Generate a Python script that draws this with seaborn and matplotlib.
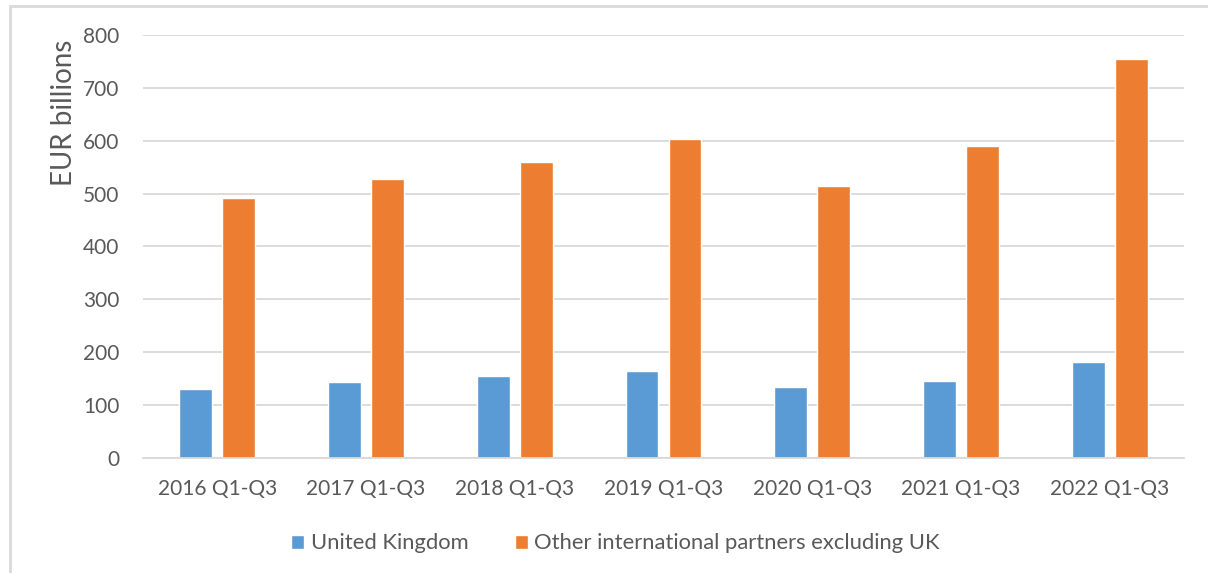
import numpy as np
import pandas as pd
import seaborn as sns
import matplotlib.pyplot as plt
from matplotlib.patches import Rectangle

# Dane
periods = ["2016 Q1-Q3", "2017 Q1-Q3", "2018 Q1-Q3", "2019 Q1-Q3",
           "2020 Q1-Q3", "2021 Q1-Q3", "2022 Q1-Q3"]
uk = [131, 144, 156, 165, 135, 146, 182]
other = [491, 528, 559, 603, 514, 590, 755]
series_names = ["United Kingdom", "Other international partners excluding UK"]
colors = ["#5b9bd5", "#ed7d31"]

df = pd.DataFrame({
    "period": periods * 2,
    "value": uk + other,
    "series": [series_names[0]] * len(periods) + [series_names[1]] * len(periods),
})

sns.set_theme(style="white")
plt.rcParams['font.family'] = ['Lato', 'DejaVu Sans']
text_color = "#595959"
grid_color = "#d9d9d9"

fig = plt.figure(figsize=(12.08, 5.73), dpi=100)
ax = fig.add_axes([143 / 1208, 115 / 573, 1041 / 1208, 423 / 573])

sns.barplot(data=df, x="period", y="value", hue="series", palette=colors,
            width=0.578, gap=0.233, ax=ax, saturation=1, legend=True)

ax.set_ylim(0, 800)
ax.set_yticks(range(0, 801, 100))
ax.set_xlim(-0.5, len(periods) - 0.5)
ax.yaxis.grid(True, color=grid_color, linewidth=1.3)
ax.set_axisbelow(True)
for s in ["top", "right", "left"]:
    ax.spines[s].set_visible(False)
ax.spines["bottom"].set_color(grid_color)
ax.spines["bottom"].set_linewidth(1.3)
ax.tick_params(axis="both", length=0, labelsize=15, colors=text_color)
ax.tick_params(axis="x", pad=15)
ax.tick_params(axis="y", pad=17)
ax.set_xlabel("")
ax.set_ylabel("")
ax.text(-0.076, 0.99, "EUR billions", rotation=90, ha="center", va="top",
        fontsize=20, color=text_color, transform=ax.transAxes)

ax.legend(loc="center", bbox_to_anchor=(0.454, -0.202), ncol=2, frameon=False,
          fontsize=15.8, labelcolor=text_color, handlelength=0.6, handleheight=0.6,
          handletextpad=0.3, columnspacing=2.1)

# Ramka wykresu
fig.patches.append(Rectangle((10 / 1208, -0.1), 1.2, (573 - 6) / 573 + 0.1,
                             transform=fig.transFigure, fill=False,
                             edgecolor=grid_color, linewidth=2))

fig.savefig("out.png", dpi=100)
